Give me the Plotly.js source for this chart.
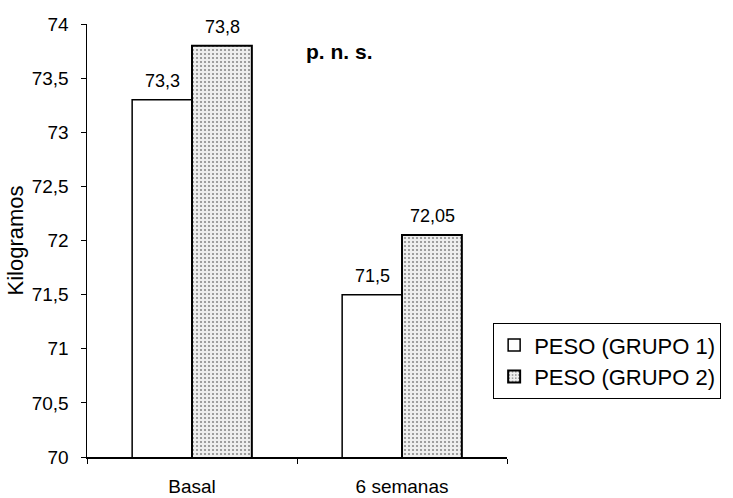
<!DOCTYPE html>
<html>
<head>
<meta charset="utf-8">
<script src="https://cdn.plot.ly/plotly-3.0.1.min.js"></script>
<style>html,body{margin:0;padding:0;background:#fff;}#chart{width:733px;height:498px;}</style>
</head>
<body>
<div id="chart"></div>
<script>
const categories = ["Basal", "6 semanas"];
const grupo1 = [73.3, 71.5];
const grupo2 = [73.8, 72.05];
const seriesNames = ["PESO (GRUPO 1)", "PESO (GRUPO 2)"];
const yTicks = [70, 70.5, 71, 71.5, 72, 72.5, 73, 73.5, 74];
const yTickLabels = ["70", "70,5", "71", "71,5", "72", "72,5", "73", "73,5", "74"];

const fmt = v => String(v).replace('.', ',');
const FONT = 'Liberation Sans, Arial, sans-serif';

const traces = [
  {
    type: 'bar', name: seriesNames[0], x: categories, y: grupo1,
    marker: {color: '#ffffff', line: {color: '#000', width: 1.5}},
    hoverinfo: 'none'
  },
  {
    type: 'bar', name: seriesNames[1], x: categories, y: grupo2,
    marker: {color: '#e6e6e6', line: {color: '#000', width: 2},
      pattern: {shape: '.', size: 4, solidity: 0.22, fgcolor: '#8a8a8a', bgcolor: '#eeeeee', fillmode: 'replace'}},
    hoverinfo: 'none'
  }
];

const annotations = [];
[grupo1, grupo2].forEach((arr, gi) => {
  arr.forEach((v, ci) => {
    annotations.push({
      x: categories[ci], y: v, xref: 'x', yref: 'y',
      text: fmt(v), showarrow: false, yanchor: 'bottom',
      xshift: gi === 0 ? -30 : 30, yshift: 7,
      font: {family: FONT, size: 18, color: '#000'}
    });
  });
});
annotations.push({
  xref: 'paper', yref: 'paper', x: 0.6, y: 0.968, text: '<b>p. n. s.</b>',
  showarrow: false, font: {family: FONT, size: 21, color: '#000'}
});

const layout = {
  width: 733, height: 498,
  margin: {l: 87, r: 224, t: 24, b: 41},
  paper_bgcolor: '#fff', plot_bgcolor: '#fff',
  barmode: 'group', bargap: 0.43, bargroupgap: 0,
  font: {family: FONT, size: 16, color: '#000'},
  xaxis: {
    type: 'category', showline: true, linecolor: '#000', linewidth: 1.5,
    ticks: 'outside', tickson: 'boundaries', ticklen: 5, tickcolor: '#000',
    showgrid: false, zeroline: false, ticklabelstandoff: 12,
    tickfont: {family: FONT, size: 19}
  },
  yaxis: {
    range: [70, 74], showline: true, linecolor: '#000', linewidth: 1.5,
    tickvals: yTicks, ticktext: yTickLabels,
    ticks: 'outside', ticklen: 5, tickcolor: '#000',
    showgrid: false, zeroline: false, ticklabelstandoff: 8,
    tickfont: {family: FONT, size: 19},
    title: {text: 'Kilogramos', font: {family: FONT, size: 22}, standoff: 2}
  },
  legend: {
    x: 0.967, y: 0.309, xanchor: 'left', yanchor: 'top',
    bordercolor: '#000', borderwidth: 1, bgcolor: '#fff',
    font: {family: FONT, size: 22, color: '#000'},
    tracegroupgap: 0, itemwidth: 30
  },
  showlegend: true,
  annotations: annotations
};

Plotly.newPlot('chart', traces, layout, {staticPlot: true, displayModeBar: false});
</script>
</body>
</html>
